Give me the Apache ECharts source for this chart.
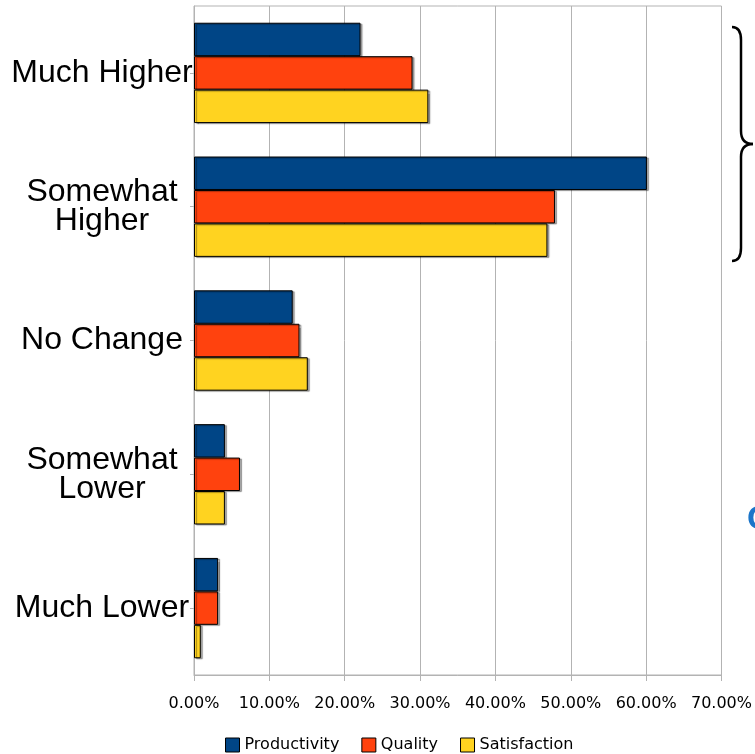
<!DOCTYPE html>
<html>
<head>
<meta charset="utf-8">
<script src="https://cdn.jsdelivr.net/npm/echarts@6/dist/echarts.min.js"></script>
<style>
  html, body { margin: 0; padding: 0; background: #fff; }
  #chart { width: 755px; height: 754px; }
</style>
</head>
<body>
<div id="chart"></div>
<script>
// categories and series values (percent)
const categories = ['Much Higher', 'Somewhat\nHigher', 'No Change', 'Somewhat\nLower', 'Much Lower'];
const productivity = [22.1, 60.1, 13.1, 4.1, 3.2];
const quality = [29.0, 47.9, 14.0, 6.1, 3.2];
const satisfaction = [31.1, 46.9, 15.1, 4.1, 0.9];
const xTicks = [0, 10, 20, 30, 40, 50, 60, 70];

const font = 'Liberation Sans, Arial, sans-serif';
const wideFont = 'DejaVu Sans, sans-serif';

function barSeries(name, values, color) {
    return {
        name: name,
        type: 'bar',
        data: values,
        barGap: '0%',
        barCategoryGap: '25%',
        itemStyle: {
            color: color,
            borderColor: '#000',
            borderWidth: 1,
            shadowColor: 'rgba(0,0,0,0.35)',
            shadowOffsetX: 2,
            shadowOffsetY: 1,
            shadowBlur: 1
        }
    };
}

// curly brace on the right, built from curves and lines
const braceStyle = { fill: null, stroke: '#000', lineWidth: 2.5 };
function curve(x1, y1, cx, cy, x2, y2) {
    return { type: 'bezierCurve', shape: { x1: x1, y1: y1, cpx1: cx, cpy1: cy, x2: x2, y2: y2 }, style: braceStyle };
}
function seg(x1, y1, x2, y2) {
    return { type: 'line', shape: { x1: x1, y1: y1, x2: x2, y2: y2 }, style: braceStyle };
}

const chart = echarts.init(document.getElementById('chart'));
chart.setOption({
    animation: false,
    textStyle: { fontFamily: font },
    grid: { left: 194, right: 32, top: 6, bottom: 79, show: true, borderColor: '#b3b3b3', borderWidth: 1 },
    legend: {
        top: 732,
        left: 220,
        itemWidth: 14,
        itemHeight: 14,
        itemGap: 22,
        icon: 'rect',
        textStyle: { fontSize: 16, color: '#000', fontFamily: wideFont },
        itemStyle: { borderColor: '#000', borderWidth: 1 },
        data: ['Productivity', 'Quality', 'Satisfaction']
    },
    xAxis: {
        type: 'value',
        min: xTicks[0],
        max: xTicks[xTicks.length - 1],
        interval: 10,
        axisLine: { show: true, lineStyle: { color: '#b3b3b3' } },
        axisTick: { show: true, length: 6, lineStyle: { color: '#b3b3b3' } },
        splitLine: { show: true, lineStyle: { color: '#b3b3b3', width: 1 } },
        axisLabel: {
            color: '#000',
            fontSize: 16,
            margin: 21,
            fontFamily: wideFont,
            formatter: v => v.toFixed(2) + '%'
        }
    },
    yAxis: {
        type: 'category',
        inverse: true,
        data: categories,
        axisLine: { show: true, lineStyle: { color: '#b3b3b3' } },
        axisTick: { show: true, alignWithLabel: true, length: 4, lineStyle: { color: '#b3b3b3' } },
        axisLabel: {
            color: '#000',
            fontSize: 32,
            lineHeight: 29,
            fontFamily: font,
            align: 'center',
            margin: 92
        }
    },
    series: [
        barSeries('Productivity', productivity, '#004586'),
        barSeries('Quality', quality, '#ff420e'),
        barSeries('Satisfaction', satisfaction, '#ffd320')
    ],
    graphic: [
        curve(732, 27, 741, 27, 741, 40),
        seg(741, 40, 741, 131),
        curve(741, 131, 741, 144, 753, 144),
        curve(753, 144, 741, 144, 741, 157),
        seg(741, 157, 741, 248),
        curve(741, 248, 741, 261, 732, 261),
        {
            type: 'text',
            left: 747,
            top: 503,
            style: { text: 'C', fontSize: 34, fontWeight: 'bold', fill: '#1b75c9', fontFamily: font }
        }
    ]
});
</script>
</body>
</html>
